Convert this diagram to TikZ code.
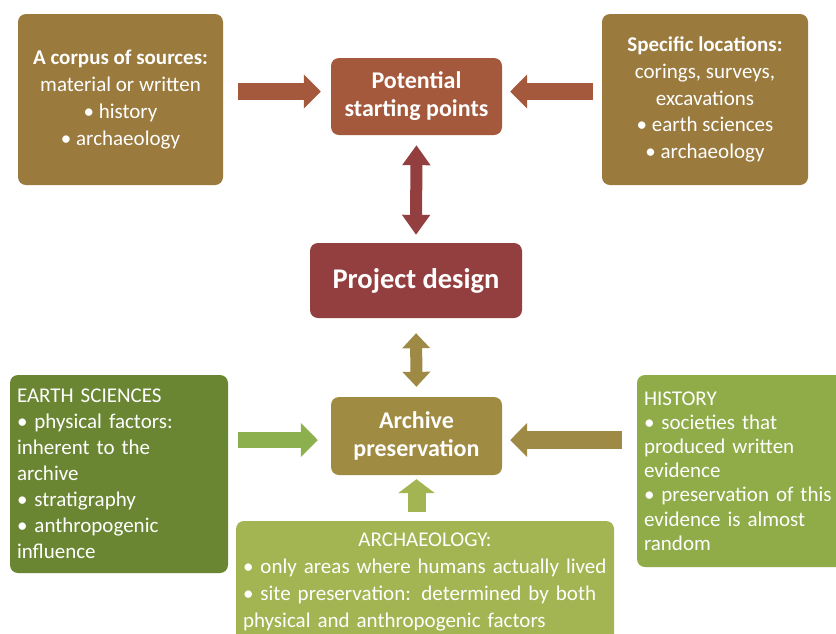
\documentclass[tikz,border=0pt]{standalone}
\usepackage{fontspec}
\setmainfont{Carlito}
\usetikzlibrary{arrows.meta}

\definecolor{sandbrown}{HTML}{9A7A3D}
\definecolor{rust}{HTML}{A4583C}
\definecolor{wine}{HTML}{943F3F}
\definecolor{olive}{HTML}{A08B42}
\definecolor{olivearrow}{HTML}{9E8A44}
\definecolor{darkgreen}{HTML}{6A8632}
\definecolor{midgreen}{HTML}{8FAC48}
\definecolor{lightgreen}{HTML}{A2B552}
\definecolor{arrowgreen}{HTML}{8DB04E}

\begin{document}
\begin{tikzpicture}[x=1pt,y=-1pt,
  box/.style={rounded corners=8pt,text=white,inner sep=7pt,
    font=\fontsize{21}{26.8}\selectfont},
  main box/.style={box,align=center,font=\fontsize{24}{28}\selectfont\bfseries},
  fat/.style={line width=#1,-{Triangle[length=17pt,width=33pt]}},
  twin/.style={line width=12pt,{Triangle[length=#1,width=27pt]}-{Triangle[length=#1,width=27pt]}}]

  \clip (0,0) rectangle (836,633);
  \fill[white] (0,0) rectangle (836,633);

  % central column
  \node[main box,fill=rust,minimum width=171pt,minimum height=77pt] (pot) at (416.5,96.5) {Potential\\starting points};
  \node[main box,fill=wine,minimum width=212pt,minimum height=75pt,font=\fontsize{28.5}{32}\selectfont\bfseries] (proj) at (416,280.5) {Project design};
  \node[main box,fill=olive,minimum width=171pt,minimum height=78pt] (arch) at (416.5,436) {Archive\\preservation};

  % sources
  \node[box,fill=sandbrown,align=center,minimum width=205pt,minimum height=171pt] (corpus) at (120.5,99.5)
    {\textbf{A corpus of sources:}\\material or written\\• history\\• archaeology};
  \node[box,fill=sandbrown,align=center,minimum width=206pt,minimum height=171pt] (spec) at (705,99.5)
    {\textbf{Specific locations:}\\corings, surveys,\\excavations\\• earth sciences\\• archaeology};

  % preservation factors
  \node[box,fill=darkgreen,align=left,text width=204pt,minimum height=198pt,font=\fontsize{21}{26}\selectfont] (earth) at (119,474)
    {EARTH SCIENCES\\• physical factors:\\inherent to the\\archive\\• stratigraphy\\• anthropogenic\\influence};
  \node[box,fill=midgreen,align=left,text width=195pt,minimum height=192pt,font=\fontsize{21}{24.2}\selectfont] (hist) at (741.5,471)
    {HISTORY\\• societies that\\produced written\\evidence\\• preservation of this\\evidence is almost\\random};
  \node[box,fill=lightgreen,align=left,text width=364pt,minimum height=122pt,font=\fontsize{21}{26.7}\selectfont] (archaeo) at (425,582)
    {\makebox[\linewidth]{ARCHAEOLOGY:}\\• only areas where humans actually lived\\• site preservation: determined by both\\physical and anthropogenic factors};

  % connectors
  \draw[fat=17pt,rust,shorten <=15pt,shorten >=10pt] ([yshift=5pt]corpus.east |- pot) -- ([yshift=5pt]pot.west);
  \draw[fat=17pt,rust,shorten <=9pt,shorten >=8pt] ([yshift=5pt]spec.west |- pot) -- ([yshift=5pt]pot.east);
  \draw[twin=20pt,wine,shorten <=10pt,shorten >=8pt] (pot.south) -- (proj.north);
  \draw[twin=15pt,olivearrow,shorten <=15pt,shorten >=10pt] (proj.south) -- (arch.north);
  \draw[fat=16pt,arrowgreen,shorten <=10pt,shorten >=13pt] ([yshift=-4pt]earth.east |- arch) -- ([yshift=-4pt]arch.west);
  \draw[fat=18pt,olivearrow,shorten <=15pt,shorten >=8pt] ([yshift=-4pt]hist.west |- arch) -- ([yshift=-4pt]arch.east);
  \draw[line width=18pt,-{Triangle[length=14pt,width=36pt]},lightgreen,shorten <=9pt,shorten >=4pt] (archaeo.north -| arch) -- (arch.south);

\end{tikzpicture}
\end{document}
